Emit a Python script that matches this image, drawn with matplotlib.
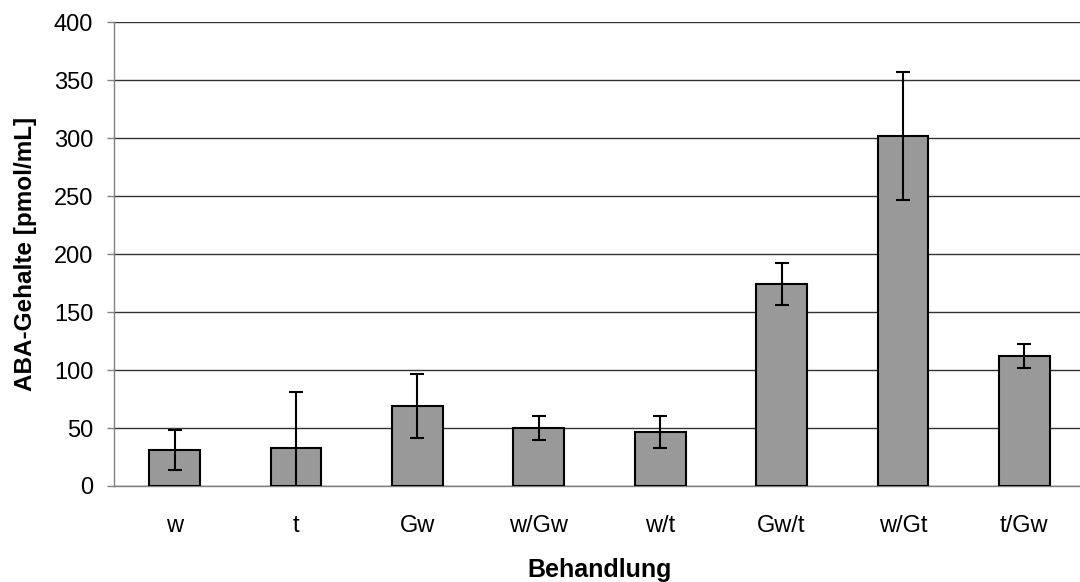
import numpy as np
import matplotlib.pyplot as plt

# data
behandlung = ["w", "t", "Gw", "w/Gw", "w/t", "Gw/t", "w/Gt", "t/Gw"]
aba = [31, 33, 69, 50, 46.5, 174, 302, 112]
fehler = [17, 48, 27.5, 10, 13.8, 18, 55, 10.5]

plt.rcParams['font.family'] = ['Liberation Sans', 'DejaVu Sans']

fig = plt.figure(figsize=(10.8, 5.82), dpi=100)
W, H = 1080, 582
ax = fig.add_axes([114 / W, (H - 486) / H, (1085 - 114) / W, (486 - 22.3) / H])

x = np.arange(len(behandlung))
ax.bar(x, aba, width=0.418, color='#999999', edgecolor='black', linewidth=1.5, zorder=3)
ax.errorbar(x, aba, yerr=fehler, fmt='none', ecolor='black', elinewidth=1.5,
            capsize=5.2, capthick=1.5, zorder=4)

ax.set_xlim(-0.5, len(behandlung) - 0.5)
ax.set_ylim(0, 400)
ax.set_yticks(range(0, 401, 50))
ax.set_xticks(x)
ax.set_xticklabels(behandlung)

ax.yaxis.grid(True, color='#333333', linewidth=1.0, zorder=0)
ax.set_axisbelow(True)

for s in ['top', 'right']:
    ax.spines[s].set_visible(False)
ax.spines['left'].set_color('#808080')
ax.spines['bottom'].set_color('#808080')
ax.spines['left'].set_linewidth(1.0)
ax.spines['bottom'].set_linewidth(1.0)

ax.tick_params(axis='y', direction='out', length=5, width=1, color='#808080',
               labelsize=17, pad=10)
ax.tick_params(axis='x', length=0, labelsize=17, pad=21)

ax.set_ylabel("ABA-Gehalte [pmol/mL]", fontsize=17.5, fontweight='bold')
ax.set_xlabel("Behandlung", fontsize=18, fontweight='bold')
ax.yaxis.set_label_coords(-0.079, 0.5)
ax.xaxis.set_label_coords(0.5, -0.155)

fig.savefig("out.png", dpi=100)
